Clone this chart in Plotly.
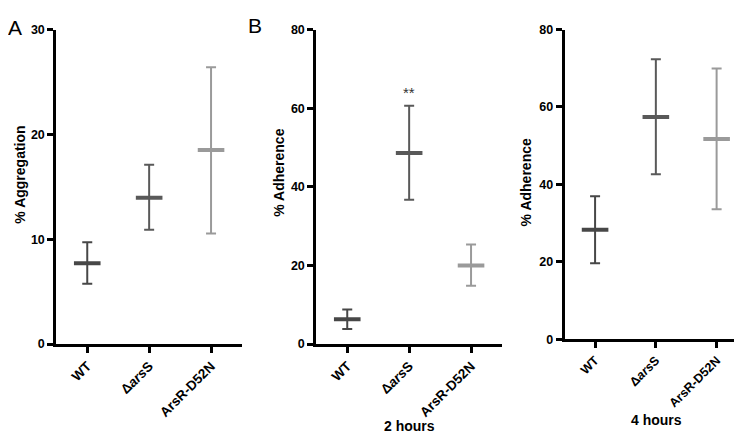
import plotly.graph_objects as go

# Categories and tick labels
strains = ["WT", "ΔarsS", "ArsR-D52N"]
strain_labels = ["WT", "Δ<i>ars</i>S", "ArsR-D52N"]
strain_colors = ["#474747", "#595959", "#9a9a9a"]

# A: aggregation (mean, upper, lower)
agg_mean = [7.7, 13.95, 18.5]
agg_upper = [9.7, 17.1, 26.4]
agg_lower = [5.75, 10.9, 10.55]

# B: adherence at 2 hours
adh2_mean = [6.3, 48.6, 20.0]
adh2_upper = [8.8, 60.6, 25.3]
adh2_lower = [3.8, 36.7, 14.8]

# C: adherence at 4 hours
adh4_mean = [28.25, 57.4, 51.7]
adh4_upper = [36.9, 72.3, 69.9]
adh4_lower = [19.6, 42.6, 33.6]

panels = [
    ("x", "y", agg_mean, agg_upper, agg_lower),
    ("x2", "y2", adh2_mean, adh2_upper, adh2_lower),
    ("x3", "y3", adh4_mean, adh4_upper, adh4_lower),
]

fig = go.Figure()

for xa, ya, mean, upper, lower in panels:
    for i, s in enumerate(strains):
        fig.add_trace(go.Scatter(
            x=[s], y=[mean[i]], xaxis=xa, yaxis=ya,
            mode="markers",
            marker=dict(symbol="line-ew", size=19,
                        line=dict(width=4, color=strain_colors[i])),
            error_y=dict(type="data", symmetric=False,
                         array=[upper[i] - mean[i]],
                         arrayminus=[mean[i] - lower[i]],
                         color=strain_colors[i], thickness=2, width=5),
            showlegend=False, hoverinfo="skip",
        ))

W, H = 742, 434
ytickfont = dict(family="Liberation Sans", size=12.5, color="black", weight="bold")
xtickfont = dict(family="Liberation Sans", size=13.5, color="black", weight="bold")

xcommon = dict(type="category", categoryorder="array", categoryarray=strains,
               tickvals=strains, ticktext=strain_labels, range=[-0.5, 2.5],
               showline=True, linewidth=3, linecolor="black", showgrid=False,
               ticks="outside", ticklen=6, tickwidth=2.5, tickcolor="black",
               tickangle=-45, tickfont=xtickfont, zeroline=False)
ycommon = dict(showline=True, linewidth=3, linecolor="black", showgrid=False,
               ticks="outside", ticklen=6, tickwidth=2.5, tickcolor="black",
               tickfont=ytickfont, zeroline=False)

fig.update_layout(
    width=W, height=H,
    margin=dict(l=0, r=0, t=0, b=0),
    plot_bgcolor="white", paper_bgcolor="white",
    font=dict(family="Liberation Sans", color="black"),
    xaxis=dict(xcommon, domain=[48.3 / W, 234 / W], anchor="y"),
    yaxis=dict(ycommon, domain=[1 - 340 / H, 1 - 15 / H], range=[0, 30],
               tickvals=[0, 10, 20, 30], anchor="x"),
    xaxis2=dict(xcommon, domain=[308.3 / W, 494 / W], anchor="y2"),
    yaxis2=dict(ycommon, domain=[1 - 340 / H, 1 - 15 / H], range=[0, 80],
                tickvals=[0, 20, 40, 60, 80], anchor="x2"),
    xaxis3=dict(xcommon, domain=[556.7 / W, 739 / W], anchor="y3",
                tickfont=dict(xtickfont, size=12.5)),
    yaxis3=dict(ycommon, domain=[1 - 335 / H, 1 - 15 / H], range=[0, 80],
                tickvals=[0, 20, 40, 60, 80], anchor="x3"),
)

titlefont = dict(family="Liberation Sans", size=14, color="black", weight="bold")
ann = [
    dict(text="% Aggregation", x=12 / W, y=1 - 165 / H, textangle=-90, font=titlefont),
    dict(text="% Adherence", x=271 / W, y=1 - 163 / H, textangle=-90, font=titlefont),
    dict(text="% Adherence", x=518 / W, y=1 - 173 / H, textangle=-90, font=titlefont),
    dict(text="2 hours", x=401 / W, y=1 - 425 / H, font=titlefont),
    dict(text="4 hours", x=648 / W, y=1 - 418 / H, font=titlefont),
    dict(text="A", x=7 / W, y=1 - 13 / H,
         font=dict(family="Liberation Sans", size=21, color="black")),
    dict(text="B", x=247 / W, y=1 - 11 / H,
         font=dict(family="Liberation Sans", size=21, color="black")),
]
for a in ann:
    fig.add_annotation(xref="paper", yref="paper", showarrow=False,
                       xanchor="center", yanchor="middle", **a)

# significance marker above ΔarsS at 2 hours
fig.add_annotation(x="ΔarsS", y=64, xref="x2", yref="y2", text="**",
                   showarrow=False, font=dict(family="Liberation Sans", size=15, color="#333333"))

fig.write_html("out.html")
